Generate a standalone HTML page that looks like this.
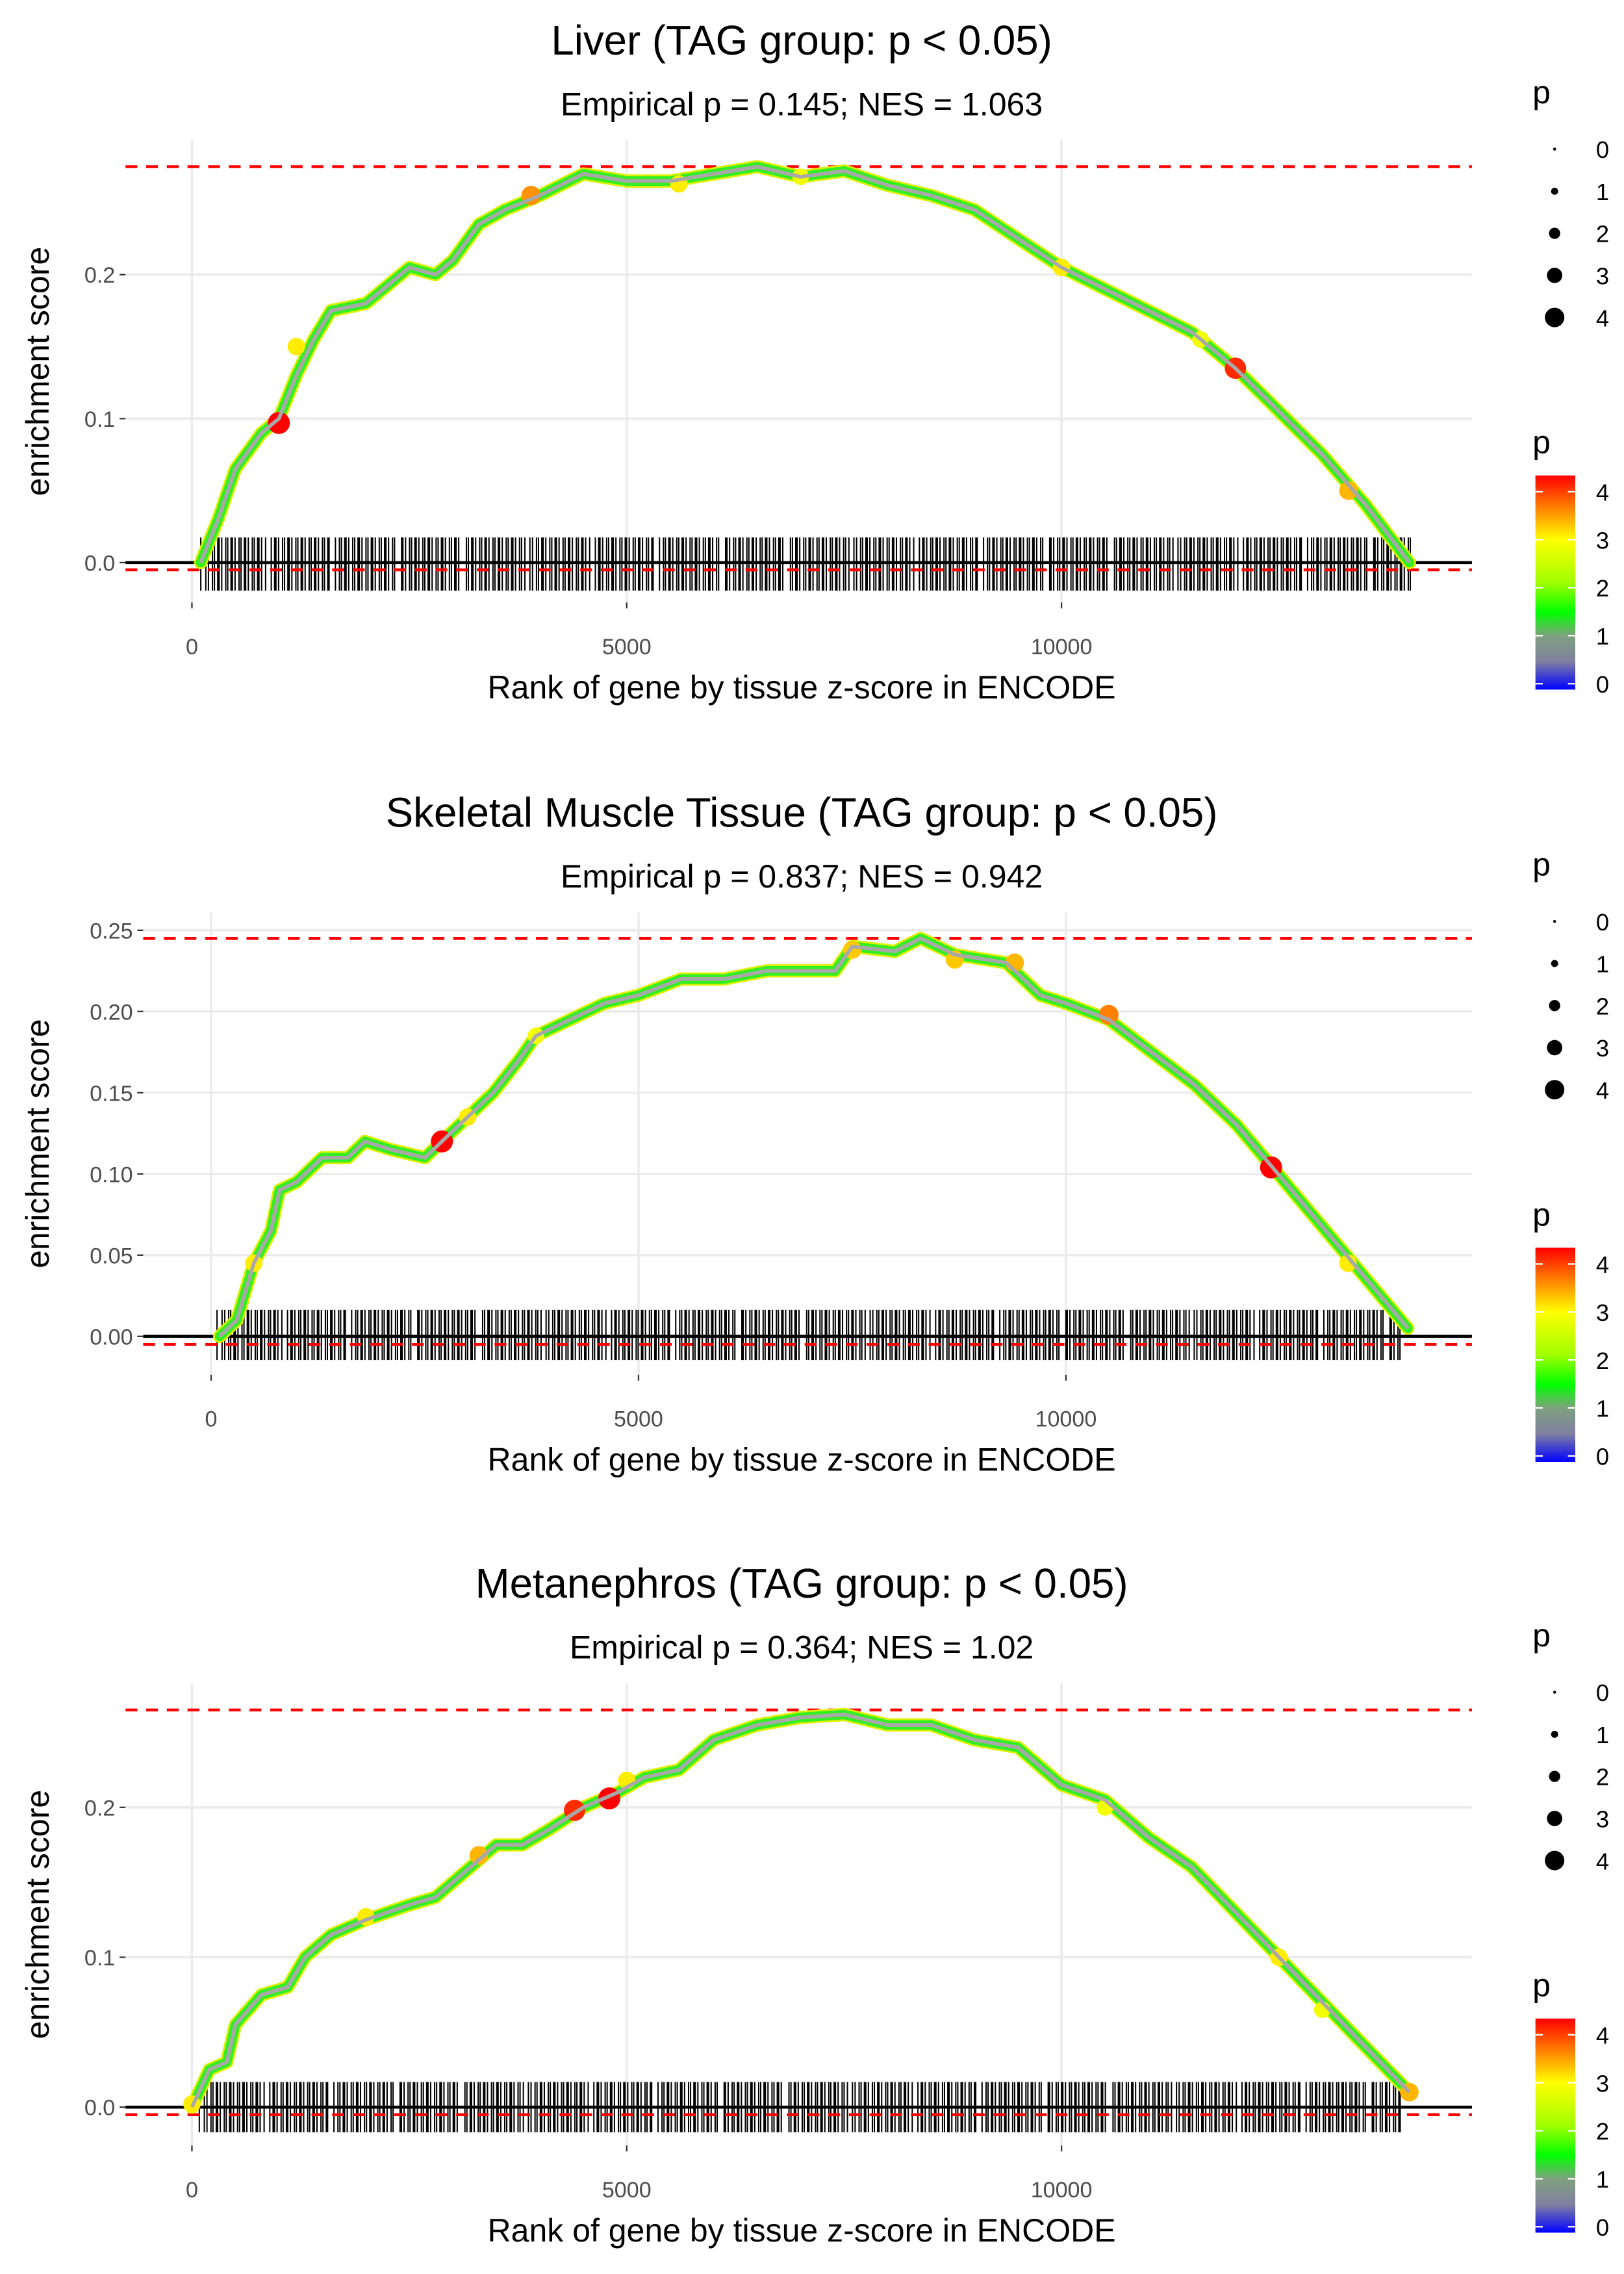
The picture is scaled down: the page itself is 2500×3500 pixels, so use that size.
<!DOCTYPE html>
<html><head><meta charset="utf-8"><style>
html,body{margin:0;padding:0;background:#fff}
svg{display:block}
text{font-family:"Liberation Sans",Arial,sans-serif}
</style></head><body>
<svg id="chart" xmlns="http://www.w3.org/2000/svg" width="2500" height="3500" viewBox="0 0 1100 1540">
<defs>
<linearGradient id="cbar" x1="0" y1="1" x2="0" y2="0">
<stop offset="0" stop-color="#0000ff"/>
<stop offset="0.13" stop-color="#8080a0"/>
<stop offset="0.25" stop-color="#80a080"/>
<stop offset="0.36" stop-color="#00ff00"/>
<stop offset="0.5" stop-color="#a0ff00"/>
<stop offset="0.7" stop-color="#ffff00"/>
<stop offset="0.85" stop-color="#ff8000"/>
<stop offset="1" stop-color="#ff0000"/>
</linearGradient>
</defs>
</svg>
<script>
// ---- data ----
const liverRanks = [100,300,500,800,1000,1200,1400,1600,2000,2200,2500,2800,3000,3300,3600,4000,4500,5000,5500,6000,6500,7000,7500,8000,8500,9000,9500,10000,10500,11000,11500,12000,12500,13000,13500,14000];
const liverES = [0,0.03,0.065,0.09,0.1,0.13,0.155,0.175,0.18,0.19,0.205,0.2,0.21,0.235,0.245,0.255,0.27,0.265,0.265,0.27,0.275,0.268,0.272,0.262,0.255,0.245,0.225,0.205,0.19,0.175,0.16,0.135,0.105,0.075,0.04,0];
const liverHitRanks = [1000,1200,3900,5600,7000,10000,11600,12000,13300];
const liverHitES = [0.097,0.15,0.255,0.263,0.268,0.205,0.155,0.135,0.05];
const liverHitP = [4.2,3,3.5,3,2.8,3,2.8,4,3.3];

const muscleRanks = [100,300,500,700,800,1000,1300,1600,1800,2100,2500,2700,3000,3300,3600,3800,4200,4600,5000,5500,6000,6500,7000,7300,7500,8000,8300,8700,9300,9700,10000,10500,11000,11500,12000,12400,12800,13200,13600,14000];
const muscleES = [0,0.01,0.045,0.065,0.09,0.095,0.11,0.11,0.12,0.115,0.11,0.12,0.135,0.15,0.17,0.185,0.195,0.205,0.21,0.22,0.22,0.225,0.225,0.225,0.24,0.237,0.245,0.235,0.23,0.21,0.205,0.195,0.175,0.155,0.13,0.105,0.08,0.055,0.03,0.005];
const muscleHitRanks = [500,2700,3000,3800,7500,8700,9400,10500,12400,13300];
const muscleHitES = [0.045,0.12,0.135,0.185,0.238,0.232,0.23,0.198,0.104,0.045];
const muscleHitP = [3,4.2,3,2.8,3.2,3.2,3.3,3.6,4.2,3];

const metaRanks = [0,200,400,500,800,1100,1300,1600,2000,2500,2800,3200,3500,3800,4100,4500,4900,5200,5600,6000,6500,7000,7500,8000,8500,9000,9500,10000,10500,11000,11500,12000,12500,13000,13500,14000];
const metaES = [0,0.025,0.03,0.055,0.075,0.08,0.1,0.115,0.125,0.135,0.14,0.16,0.175,0.175,0.185,0.2,0.21,0.22,0.225,0.245,0.255,0.26,0.262,0.255,0.255,0.245,0.24,0.215,0.205,0.18,0.16,0.13,0.1,0.07,0.04,0.01];
const metaHitRanks = [0,2000,3300,4400,4800,5000,10500,12500,13000,14000];
const metaHitES = [0.002,0.127,0.168,0.198,0.206,0.218,0.2,0.1,0.065,0.01];
const metaHitP = [3,3,3.3,4,4.2,3,2.8,3,2.8,3.3];

const legendSizes = [0,1,2,3,4];
const colorTicks = [0,1,2,3,4];

const panels = [
 {name:"liver", title:"Liver (TAG group: p < 0.05)", sub:"Empirical p = 0.145; NES = 1.063", off:0,
  x0:130, xs:0.0589, y0:381, ys:975, yTicks:[0,0.1,0.2], yLab:["0.0","0.1","0.2"], top:0.275, bot:-0.005,
  left:85, bar:[364,400], barX:[136,957], ranks:liverRanks, es:liverES, hr:liverHitRanks, he:liverHitES, hp:liverHitP},
 {name:"muscle", title:"Skeletal Muscle Tissue (TAG group: p < 0.05)", sub:"Empirical p = 0.837; NES = 0.942", off:523,
  x0:143, xs:0.0579, y0:905, ys:1100, yTicks:[0,0.05,0.1,0.15,0.2,0.25], yLab:["0.00","0.05","0.10","0.15","0.20","0.25"], top:0.245, bot:-0.005,
  left:97, bar:[887,921], barX:[147,950], ranks:muscleRanks, es:muscleES, hr:muscleHitRanks, he:muscleHitES, hp:muscleHitP},
 {name:"metanephros", title:"Metanephros (TAG group: p < 0.05)", sub:"Empirical p = 0.364; NES = 1.02", off:1045,
  x0:130, xs:0.0589, y0:1427, ys:1015, yTicks:[0,0.1,0.2], yLab:["0.0","0.1","0.2"], top:0.265, bot:-0.005,
  left:85, bar:[1410,1444], barX:[135,950], ranks:metaRanks, es:metaES, hr:metaHitRanks, he:metaHitES, hp:metaHitP}
];
const xTicks = [0,5000,10000];

// ---- drawing ----
const NS="http://www.w3.org/2000/svg";
const svg=document.getElementById('chart');
function mk(tag,attrs,parent,txt){const e=document.createElementNS(NS,tag);for(const k in attrs)e.setAttribute(k,attrs[k]);if(txt!==undefined)e.textContent=txt;(parent||svg).appendChild(e);return e;}
function pcol(p){
  const stops=[[0,[0,0,255]],[0.55,[128,128,160]],[1.05,[128,160,128]],[1.5,[0,255,0]],[2.1,[160,255,0]],[2.9,[255,255,0]],[3.6,[255,128,0]],[4.2,[255,0,0]]];
  for(let i=1;i<stops.length;i++){if(p<=stops[i][0]){const a=stops[i-1],b=stops[i];const t=(p-a[0])/(b[0]-a[0]);const c=a[1].map((v,j)=>Math.round(v+(b[1][j]-v)*t));return `rgb(${c})`;}}
  return 'rgb(255,0,0)';
}
panels.forEach(P=>{
  const g=mk('g',{});
  
  
  const X=r=>P.x0+r*P.xs, Y=v=>P.y0-v*P.ys;
  const t=mk('text',{x:543,y:P.off+37,'text-anchor':'middle','font-size':28},g,P.title);
  
  
  const s=mk('text',{x:543,y:P.off+78,'text-anchor':'middle','font-size':22},g,P.sub);
  
  
  const pt=P.off+95, pb=P.off+408;
  xTicks.forEach(v=>{const l=mk('line',{x1:X(v),x2:X(v),y1:pt,y2:pb,stroke:'#ebebeb','stroke-width':1.6},g);
    
    });
  P.yTicks.forEach((v,i)=>{const l=mk('line',{x1:P.left,x2:997,y1:Y(v),y2:Y(v),stroke:'#ebebeb','stroke-width':1.6},g);
    
    
    mk('line',{x1:P.left-4,x2:P.left,y1:Y(v),y2:Y(v),stroke:'#333','stroke-width':1},g);
    const tl=mk('text',{x:P.left-7,y:Y(v)+5.5,'text-anchor':'end','font-size':15,fill:'#4d4d4d'},g,P.yLab[i]);
    
    });
  xTicks.forEach(v=>{mk('line',{x1:X(v),x2:X(v),y1:pb,y2:pb+4,stroke:'#333','stroke-width':1},g);
    const tl=mk('text',{x:X(v),y:pb+35,'text-anchor':'middle','font-size':15,fill:'#4d4d4d'},g,String(v));
    
    });
  const bc=mk('g',{},g);
  
  
  let d='';
  for(let x=P.barX[0],i=0;x<=P.barX[1];i++){d+=`M${x.toFixed(2)} ${P.bar[0]}V${P.bar[1]}`;x+=0.9+((i*7)%5)*0.45+((i%23)==0?2.5:0);}
  mk('path',{d:d,stroke:'#000','stroke-width':0.9,fill:'none'},bc);
  [P.top,P.bot].forEach(v=>{const l=mk('line',{x1:P.left,x2:997,y1:Y(v),y2:Y(v),stroke:'#ff0000','stroke-width':2,'stroke-dasharray':'8,6'},g);
    
    });
  const z=mk('line',{x1:P.left,x2:997,y1:Y(0),y2:Y(0),stroke:'#000','stroke-width':2},g);
  
  
  const pts=P.ranks.map((r,i)=>`${X(r).toFixed(1)},${Y(P.es[i]).toFixed(1)}`).join(' ');
  const c1=mk('polyline',{points:pts,fill:'none',stroke:'#ddf000','stroke-width':9,'stroke-linejoin':'round','stroke-linecap':'round'},g);
  
  
  const c2=mk('polyline',{points:pts,fill:'none',stroke:'#33ee22','stroke-width':6.5,'stroke-linejoin':'round','stroke-linecap':'round'},g);
  
  
  P.hr.forEach((r,i)=>{const c=mk('circle',{cx:X(r),cy:Y(P.he[i]),r:2+P.hp[i]*1.3,fill:pcol(P.hp[i])},g);
    
    });
  const c3=mk('polyline',{points:pts,fill:'none',stroke:'#a8a8a8','stroke-width':2.5,'stroke-linejoin':'round'},g);
  
  
  const xt=mk('text',{x:543,y:pb+65,'text-anchor':'middle','font-size':22},g,'Rank of gene by tissue z-score in ENCODE');
  
  
  const cy=(pt+pb)/2;
  const yt=mk('text',{x:0,y:0,'text-anchor':'middle','font-size':22,transform:`translate(33,${cy}) rotate(-90)`},g,'enrichment score');
  
  
  const lg=mk('g',{},g);
  
  
  mk('text',{x:1038,y:P.off+70,'font-size':22},lg,'p');
  legendSizes.forEach((v,i)=>{const yy=P.off+101+i*28.5;
    const c=mk('circle',{cx:1053,cy:yy,r:1+v*1.4,fill:'#000'},lg);
    
    
    mk('text',{x:1081,y:yy+6,'font-size':16},lg,String(v));});
  const cl=mk('g',{},g);
  
  
  mk('text',{x:1038,y:P.off+307,'font-size':22},cl,'p');
  const cb0=P.off+467, cbs=32.5;
  mk('rect',{x:1040,y:P.off+322,width:27,height:145,fill:'url(#cbar)'},cl);
  colorTicks.forEach(v=>{const yy=cb0-4-v*cbs;
    mk('line',{x1:1040,x2:1045,y1:yy,y2:yy,stroke:'#fff','stroke-width':1},cl);
    mk('line',{x1:1062,x2:1067,y1:yy,y2:yy,stroke:'#fff','stroke-width':1},cl);
    mk('text',{x:1081,y:yy+6,'font-size':16},cl,String(v));});
});
</script>
</body></html>
